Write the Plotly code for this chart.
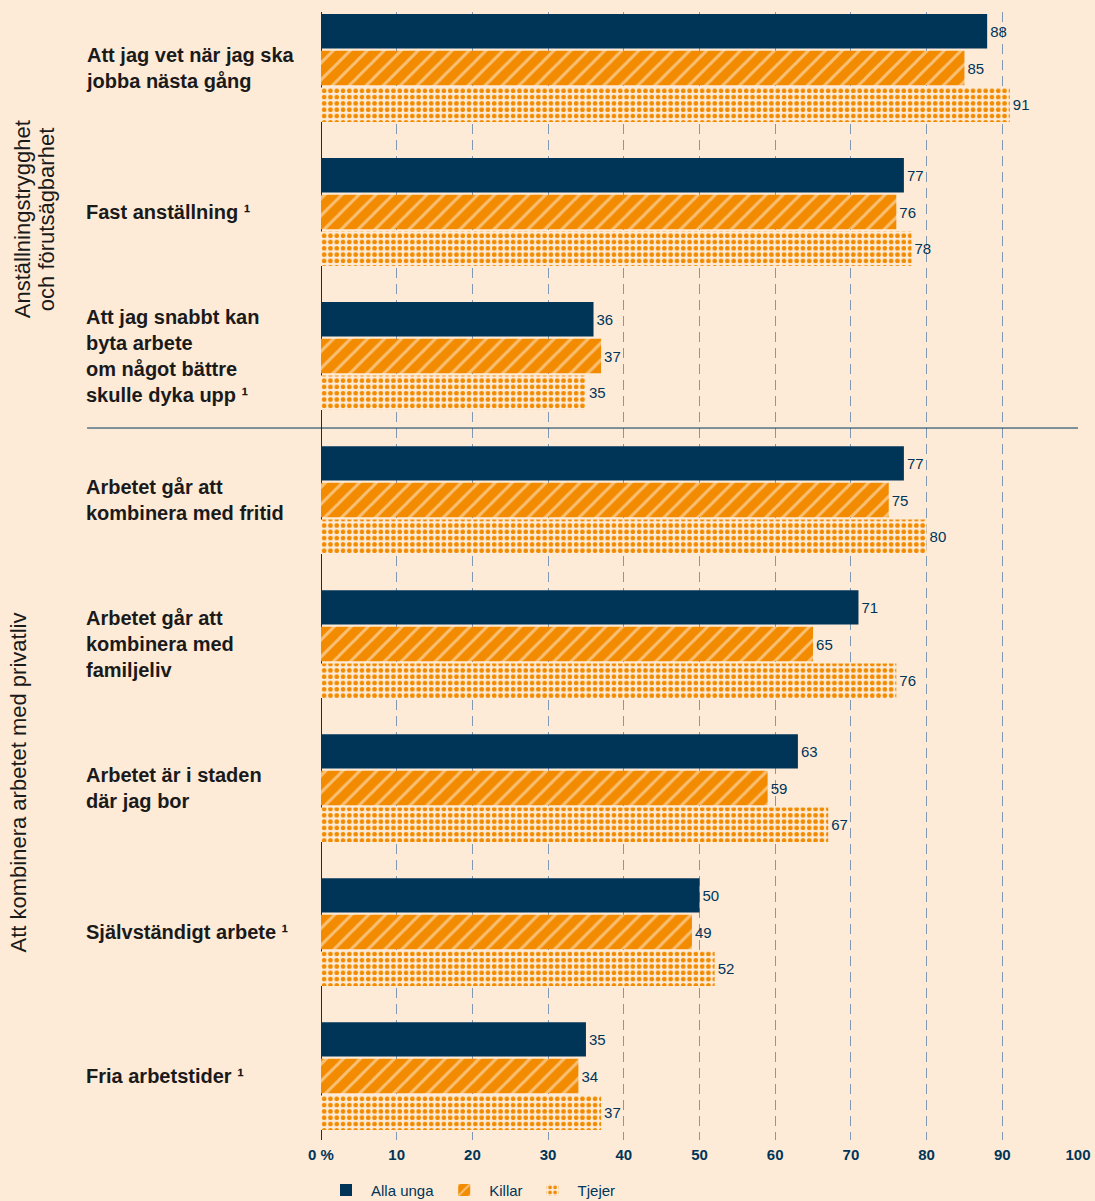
import plotly.graph_objects as go

categories = [
    "Att jag vet när jag ska<br>jobba nästa gång",
    "Fast anställning ¹",
    "Att jag snabbt kan<br>byta arbete<br>om något bättre<br>skulle dyka upp ¹",
    "Arbetet går att<br>kombinera med fritid",
    "Arbetet går att<br>kombinera med<br>familjeliv",
    "Arbetet är i staden<br>där jag bor",
    "Självständigt arbete ¹",
    "Fria arbetstider ¹",
]
alla_unga = [88, 77, 36, 77, 71, 63, 50, 35]
killar = [85, 76, 37, 75, 65, 59, 49, 34]
tjejer = [91, 78, 35, 80, 76, 67, 52, 37]

tick_vals = [0, 10, 20, 30, 40, 50, 60, 70, 80, 90, 100]
tick_text = ["0 %", "10", "20", "30", "40", "50", "60", "70", "80", "90", "100"]

BG = "#FDEBD8"
NAVY = "#003558"
ORANGE = "#F28B00"
FONT = "Liberation Sans, Arial, sans-serif"

fig = go.Figure()

fig.add_trace(go.Bar(
    y=categories, x=alla_unga, name="Alla unga", orientation="h",
    marker=dict(color=NAVY, line=dict(width=0)),
    text=alla_unga, textposition="outside",
    textfont=dict(color=NAVY, size=15, family=FONT),
))

fig.add_trace(go.Bar(
    y=categories, x=killar, name="Killar", orientation="h",
    marker=dict(color=ORANGE, line=dict(width=0),
                pattern=dict(shape="/", fgcolor="#FFF6EA", size=12, solidity=0.25)),
    text=killar, textposition="outside",
    textfont=dict(color=NAVY, size=15, family=FONT),
))

fig.add_trace(go.Bar(
    y=categories, x=tjejer, name="Tjejer", orientation="h",
    marker=dict(color=BG, line=dict(width=0),
                pattern=dict(shape=".", fgcolor=ORANGE, bgcolor=BG, fillmode="replace",
                             size=6.3, solidity=0.42)),
    text=tjejer, textposition="outside",
    textfont=dict(color=NAVY, size=15, family=FONT),
))

# category labels, left aligned
for cat in categories:
    fig.add_annotation(
        x=-0.313, xref="paper", y=cat, yref="y",
        text="<b>" + cat + "</b>", showarrow=False,
        xanchor="left", yanchor="middle", align="left",
        font=dict(size=20, color="#1a1a1a", family=FONT),
    )

# rotated group labels (one annotation per line)
fig.add_annotation(
    x=-0.3950, xref="paper", y=1.05, yref="y",
    text="Anställningstrygghet", showarrow=False, textangle=-90,
    xanchor="center", yanchor="middle",
    font=dict(size=22, color="#1a1a1a", family=FONT),
)
fig.add_annotation(
    x=-0.3633, xref="paper", y=1.05, yref="y",
    text="och förutsägbarhet", showarrow=False, textangle=-90,
    xanchor="center", yanchor="middle",
    font=dict(size=22, color="#1a1a1a", family=FONT),
)
fig.add_annotation(
    x=-0.4000, xref="paper", y=4.96, yref="y",
    text="Att kombinera arbetet med privatliv", showarrow=False, textangle=-90,
    xanchor="center", yanchor="middle",
    font=dict(size=22, color="#1a1a1a", family=FONT),
)

# separator between the two groups
fig.add_shape(type="line", xref="paper", x0=-0.309, x1=1, yref="y", y0=2.5, y1=2.5,
              line=dict(color=NAVY, width=1))

fig.update_layout(
    barmode="group",
    bargap=0.236,
    bargroupgap=0.06,
    width=1095, height=1201,
    paper_bgcolor=BG, plot_bgcolor=BG,
    margin=dict(l=321, r=17, t=12, b=61, autoexpand=False),
    font=dict(family=FONT, color=NAVY),
    showlegend=True,
    legend=dict(orientation="h", x=0, xanchor="left", yref="container", y=0.009, yanchor="middle",
                font=dict(size=15, color=NAVY, family=FONT),
                bgcolor="rgba(0,0,0,0)", itemwidth=40, traceorder="normal"),
)

fig.update_xaxes(
    range=[0, 100], tickvals=tick_vals, ticktext=tick_text,
    showgrid=True, gridcolor="#8098B2", griddash="10px,6px", gridwidth=1,
    zeroline=True, zerolinecolor=NAVY, zerolinewidth=1,
    tickfont=dict(size=15, color=NAVY, family=FONT, weight="bold"),
    showline=False, ticks="", ticklen=0, ticklabelstandoff=4, automargin=False,
)
fig.update_yaxes(
    range=[7.444, -0.389], showticklabels=False, showgrid=False,
    zeroline=False, showline=False, ticks="", automargin=False,
)
fig.update_traces(cliponaxis=False)

fig.write_html("out.html", config={"displayModeBar": False},
               post_script="document.body.style.margin='0';document.body.style.background='%s';" % BG)
